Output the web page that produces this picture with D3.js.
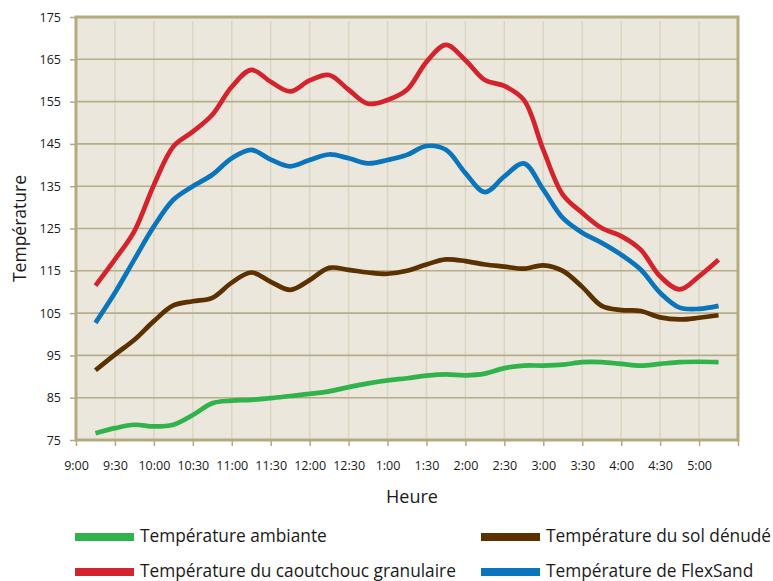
<!DOCTYPE html>
<html>
  <head>
    <title>Température</title>
    <script src="https://d3js.org/d3.v7.min.js"></script>
    <style>
      body { margin: 0; background: white; }
      text { font-family: "Open Sans", sans-serif; fill: #1a1a1a; }
      .tick text { font-size: 12.5px; }
    </style>
  </head>
  <body>
    <script>

      // times of the readings (every 15 minutes)
      let times = ["9:15", "9:30", "9:45", "10:00", "10:15", "10:30", "10:45", "11:00", "11:15", "11:30", "11:45",
                   "12:00", "12:15", "12:30", "12:45", "1:00", "1:15", "1:30", "1:45", "2:00", "2:15", "2:30", "2:45",
                   "3:00", "3:15", "3:30", "3:45", "4:00", "4:15", "4:30", "4:45", "5:00", "5:15"];

      let tickLabels = ["9:00", "9:30", "10:00", "10:30", "11:00", "11:30", "12:00", "12:30", "1:00", "1:30",
                        "2:00", "2:30", "3:00", "3:30", "4:00", "4:30", "5:00", ""];

      let yTicks = [75, 85, 95, 105, 115, 125, 135, 145, 155, 165, 175];

      let ambiante = [76.6, 77.8, 78.6, 78.2, 78.6, 80.9, 83.7, 84.3, 84.5, 84.9, 85.4, 85.9, 86.5, 87.5, 88.4, 89.1,
                      89.6, 90.2, 90.5, 90.3, 90.7, 92.0, 92.6, 92.6, 92.8, 93.4, 93.4, 93.0, 92.6, 93.0, 93.4, 93.5, 93.4];

      let solDenude = [91.5, 95.2, 98.7, 103.1, 106.8, 107.8, 108.6, 112.2, 114.6, 112.4, 110.5, 112.8, 115.7, 115.2, 114.6, 114.3,
                       115.0, 116.5, 117.7, 117.3, 116.5, 116.0, 115.5, 116.3, 115.0, 111.2, 106.7, 105.7, 105.5, 104.0, 103.5, 103.9, 104.5];

      let caoutchouc = [111.5, 117.7, 124.4, 135.3, 144.4, 147.9, 151.9, 158.5, 162.5, 159.7, 157.4, 160.0,
                        161.3, 157.8, 154.5, 155.4, 157.8, 164.4, 168.4, 164.8, 160.1, 158.7, 155.4,
                        143.6, 133.0, 128.7, 125.1, 123.2, 120.0, 113.7, 110.6, 113.7, 117.6];

      let flexSand = [102.7, 109.8, 117.7, 125.5, 131.8, 135.0, 137.7, 141.6, 143.6, 141.3, 139.7, 141.2,
                      142.5, 141.6, 140.4, 141.2, 142.4, 144.5, 143.6, 138.1, 133.6, 137.3, 140.4,
                      134.2, 127.5, 124.0, 121.6, 118.8, 115.3, 109.8, 106.3, 106.0, 106.7];

      let seriesNames = ["Température ambiante", "Température du sol dénudé",
                         "Température du caoutchouc granulaire", "Température de FlexSand"];
      let seriesColors = ["#2fb34a", "#5b3100", "#d5232e", "#0a75bc"];

      let width = 773, height = 581;
      let plotLeft = 76, plotTop = 17, plotRight = 738, plotBottom = 440;

      // minutes after 9:00 (afternoon hours are written 1:00..5:00)
      function minutes(t) {
          let [h, m] = t.split(":").map(Number);
          if (h < 9) h += 12;
          return (h - 9) * 60 + m;
      }

      let svg = d3.select("body").append("svg")
                  .attr("width", width)
                  .attr("height", height)

      let x = d3.scaleLinear().domain([0, 510]).range([plotLeft, plotRight])
      let y = d3.scaleLinear().domain([75, 175]).range([plotBottom, plotTop])

      let xTickValues = tickLabels.map((d, i) => i * 30)

      svg.append("rect")
         .attr("x", plotLeft).attr("y", plotTop)
         .attr("width", plotRight - plotLeft).attr("height", plotBottom - plotTop)
         .attr("fill", "#ebe7dd")

      // vertical grid
      svg.append("g").selectAll("line").data(xTickValues.slice(1, -1))
         .enter().append("line")
         .attr("x1", d => x(d)).attr("x2", d => x(d))
         .attr("y1", plotTop + 4).attr("y2", plotBottom)
         .attr("stroke", "#dcd5c2").attr("stroke-width", 1.5)

      // horizontal grid
      svg.append("g").selectAll("line").data(yTicks.slice(1, -1))
         .enter().append("line")
         .attr("x1", plotLeft).attr("x2", plotRight)
         .attr("y1", d => y(d)).attr("y2", d => y(d))
         .attr("stroke", "#b7ad88").attr("stroke-width", 1.6)

      let xAxis = svg.append("g")
         .attr("transform", `translate(0, ${plotBottom})`)
         .call(d3.axisBottom(x).tickValues(xTickValues)
               .tickFormat((d, i) => tickLabels[i]).tickSize(6).tickPadding(15))
      xAxis.select(".domain").remove()
      xAxis.selectAll("line").attr("stroke", "#b4aa80").attr("stroke-width", 1.5)

      let yAxis = svg.append("g")
         .attr("transform", `translate(${plotLeft}, 0)`)
         .call(d3.axisLeft(y).tickValues(yTicks).tickSize(6).tickPadding(9))
      yAxis.select(".domain").remove()
      yAxis.selectAll("line").attr("stroke", "#b4aa80").attr("stroke-width", 1.5)

      let line = d3.line()
                   .x((d, i) => x(minutes(times[i])))
                   .y(d => y(d))
                   .curve(d3.curveCatmullRom.alpha(0.5))

      let allSeries = [ambiante, solDenude, caoutchouc, flexSand]

      svg.append("g").selectAll("path").data(allSeries)
         .enter().append("path")
         .attr("d", d => line(d))
         .attr("fill", "none")
         .attr("stroke", (d, i) => seriesColors[i])
         .attr("stroke-width", 4.7)

      // frame
      svg.append("rect")
         .attr("x", plotLeft).attr("y", plotTop)
         .attr("width", plotRight - plotLeft).attr("height", plotBottom - plotTop)
         .attr("fill", "none")
         .attr("stroke", "#b4aa80").attr("stroke-width", 3)

      svg.append("text")
         .attr("x", 412).attr("y", 503)
         .attr("text-anchor", "middle")
         .style("font-size", "18px")
         .text("Heure")

      svg.append("text")
         .attr("transform", `translate(26, ${(plotTop + plotBottom) / 2}) rotate(-90)`)
         .attr("text-anchor", "middle")
         .style("font-size", "17.5px")
         .text("Température")

      // legend, two columns
      let legendPos = [[75, 537], [481, 537], [75, 572], [481, 572]]

      let legend = svg.append("g").selectAll("g").data(seriesNames)
                      .enter().append("g")
                      .attr("transform", (d, i) => `translate(${legendPos[i][0]}, ${legendPos[i][1]})`)

      legend.append("rect")
            .attr("x", 0).attr("y", -4)
            .attr("width", 59).attr("height", 8)
            .attr("fill", (d, i) => seriesColors[i])

      legend.append("text")
            .attr("x", 65).attr("y", 4.5)
            .style("font-size", "17.3px")
            .text(d => d)

    </script>
  </body>
</html>
